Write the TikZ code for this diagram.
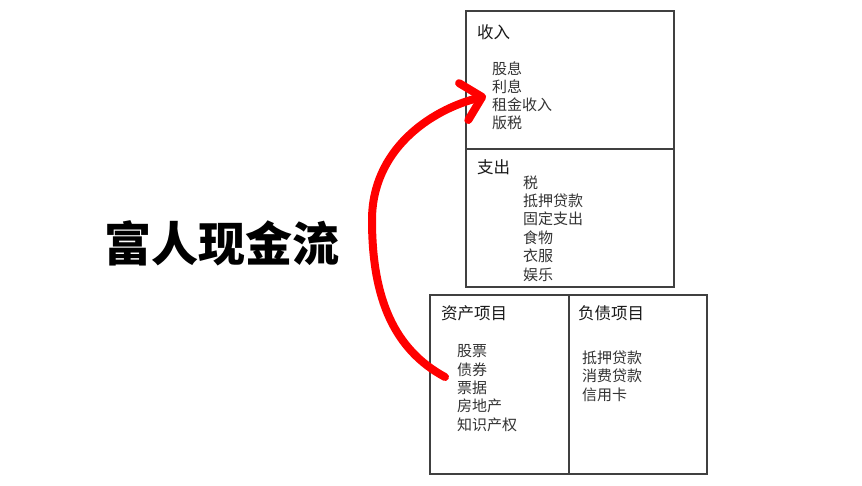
\documentclass[tikz,border=0pt]{standalone}
\usepackage{fontspec}
\setmainfont{Noto Sans CJK SC}
\usetikzlibrary{arrows.meta}

\begin{document}
\begin{tikzpicture}[x=1pt, y=-1pt,
    panel/.style={draw=black!75, line width=1.2pt, minimum width=#1, inner sep=0pt},
    head/.style={anchor=west, inner sep=0pt, text=black!90, font=\fontsize{16.5}{18}\selectfont},
    item/.style={anchor=west, inner sep=0pt, text=black!80, font=\fontsize{15}{18}\selectfont}]

    \useasboundingbox[fill=white] (0,0) rectangle (862,485);

    % === Title ===
    \node[inner sep=0pt, font=\fontsize{47}{50}\bfseries\selectfont] (title) at (222,243) {富人现金流};

    % === Income / Expense (top) ===
    \node[panel=208pt, minimum height=138pt] (income) at (570,80) {};
    \node[panel=208pt, minimum height=138pt] (expense) at (570,218) {};

    \node[head] (incomehead) at (477,32) {收入};
    \foreach \t [count=\i] in {股息,利息,租金收入,版税}
        \node[item] (inc\i) at (492,50+18.3*\i) {\t};

    \node[head] (expensehead) at (477,167) {支出};
    \foreach \t [count=\i] in {税,抵押贷款,固定支出,食物,衣服,娱乐}
        \node[item] (exp\i) at (523,164+18.4*\i) {\t};

    % === Assets / Liabilities (bottom) ===
    \node[panel=139pt, minimum height=179pt] (assets) at (499.5,384.5) {};
    \node[panel=138pt, minimum height=179pt] (liabilities) at (638,384.5) {};

    \node[head] (assetshead) at (441,313) {资产项目};
    \foreach \t [count=\i] in {股票,债券,票据,房地产,知识产权}
        \node[item] (ast\i) at (457,333+18.3*\i) {\t};

    \node[head] (liabhead) at (578,313) {负债项目};
    \foreach \t [count=\i] in {抵押贷款,消费贷款,信用卡}
        \node[item] (lia\i) at (582,339+18.5*\i) {\t};

    % === Red flow arrow ===
    \coordinate (flowstart) at (445,377);
    \coordinate (flowend) at (486,96);
    \draw[red, line width=8pt, line cap=round,
          -{Straight Barb[round, length=19pt, width=38pt]}]
        (flowstart) .. controls (395,350) and (372,300) .. (372,220)
        .. controls (372,150) and (430,110) .. (flowend);

\end{tikzpicture}
\end{document}
